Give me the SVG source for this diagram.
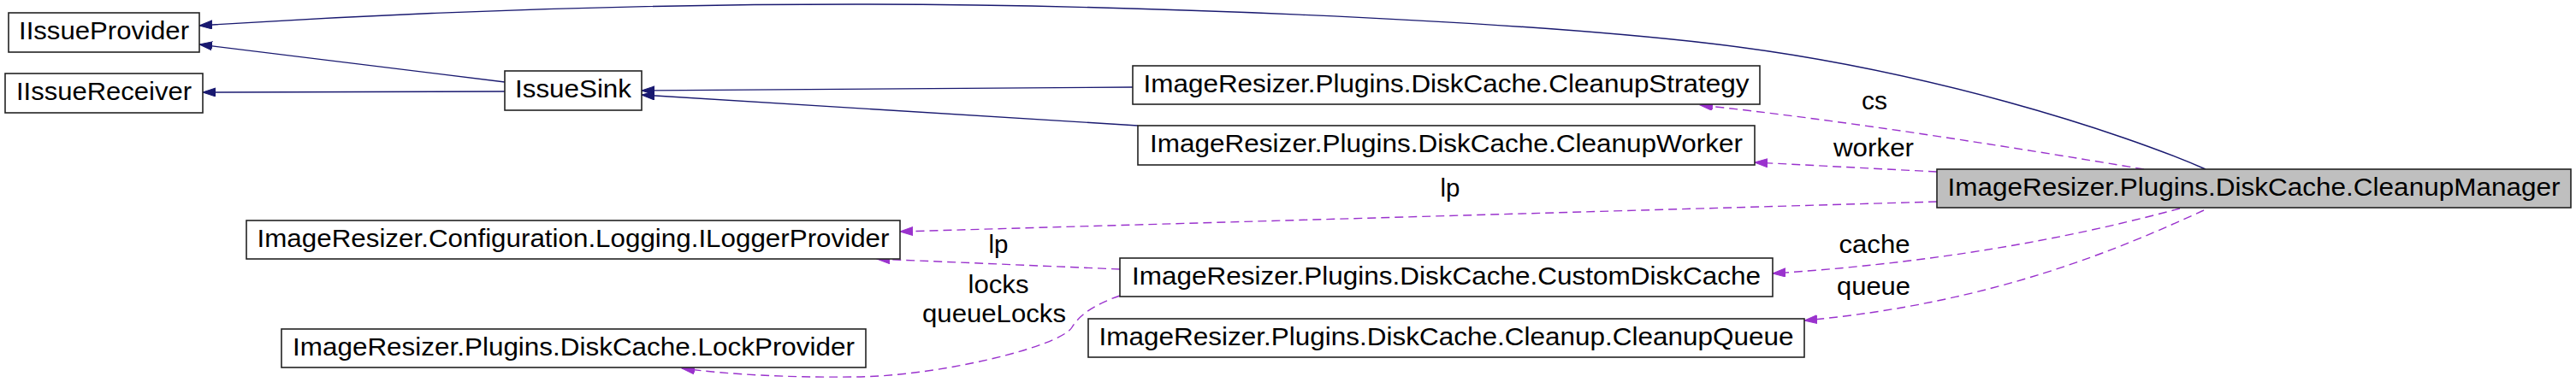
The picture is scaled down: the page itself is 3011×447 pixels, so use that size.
<svg xmlns="http://www.w3.org/2000/svg" width="3011" height="447" viewBox="0 0 3011 447">
<style>
.n rect{fill:#ffffff;stroke:#222222;stroke-width:1.6}
.n text,.lbl{font-family:"Liberation Sans",Arial,sans-serif;font-size:29px;fill:#000000;text-anchor:middle}
.inh{fill:none;stroke:#191970;stroke-width:1.4;marker-end:url(#ab)}
.use{fill:none;stroke:#9a32cd;stroke-width:1.4;stroke-dasharray:10,6;marker-end:url(#ap)}
</style>
<defs>
<marker id="ab" markerUnits="userSpaceOnUse" markerWidth="16" markerHeight="12" refX="15" refY="5" orient="auto"><path d="M0,0 L15,5 L0,10 z" fill="#191970" stroke="#191970"/></marker>
<marker id="ap" markerUnits="userSpaceOnUse" markerWidth="16" markerHeight="12" refX="15" refY="5" orient="auto"><path d="M0,0 L15,5 L0,10 z" fill="#9a32cd" stroke="#9a32cd"/></marker>
</defs>
<rect width="3011" height="447" fill="#ffffff"/>
<g id="connectors">
<path class="inh" d="M2578,198 C2480,155 2250,80 2000,51 C1750,22 1300,5 1000,5 C700,5 420,18 233,30"/>
<path class="inh" d="M590,96 L233,52"/>
<path class="inh" d="M590,107 L237,108"/>
<path class="inh" d="M1324,102 L750,106"/>
<path class="inh" d="M1330,147 L750,111"/>
<path class="use" d="M2506,198 C2350,172 2150,140 1987,123"/>
<path class="use" d="M2264,201 L2051,190"/>
<path class="use" d="M2264,236 L1052,271"/>
<path class="use" d="M2548,244 C2450,270 2300,305 2072,320"/>
<path class="use" d="M2576,246 C2480,290 2330,355 2109,375"/>
<path class="use" d="M1309,315 L1025,303"/>
<path class="use" d="M1309,346 C1280,356 1262,368 1253,383 C1240,405 1100,440 1000,441 C920,442 850,438 797,431"/>
<text class="lbl" x="2191" y="128" textLength="30" lengthAdjust="spacingAndGlyphs">cs</text>
<text class="lbl" x="2190" y="183" textLength="94" lengthAdjust="spacingAndGlyphs">worker</text>
<text class="lbl" x="1695" y="230" textLength="23" lengthAdjust="spacingAndGlyphs">lp</text>
<text class="lbl" x="2191" y="296" textLength="83" lengthAdjust="spacingAndGlyphs">cache</text>
<text class="lbl" x="2190" y="345" textLength="86" lengthAdjust="spacingAndGlyphs">queue</text>
<text class="lbl" x="1167" y="296" textLength="23" lengthAdjust="spacingAndGlyphs">lp</text>
<text class="lbl" x="1167" y="343" textLength="71" lengthAdjust="spacingAndGlyphs">locks</text>
<text class="lbl" x="1162" y="377" textLength="168" lengthAdjust="spacingAndGlyphs">queueLocks</text>
</g>
<g id="IIssueProvider" class="n"><rect x="10" y="15" width="223" height="46"/><text x="121.5" y="46" textLength="199" lengthAdjust="spacingAndGlyphs">IIssueProvider</text></g>
<g id="IIssueReceiver" class="n"><rect x="6" y="86" width="231" height="46"/><text x="121.5" y="117" textLength="205" lengthAdjust="spacingAndGlyphs">IIssueReceiver</text></g>
<g id="IssueSink" class="n"><rect x="590" y="83" width="160" height="46"/><text x="670" y="114" textLength="136" lengthAdjust="spacingAndGlyphs">IssueSink</text></g>
<g id="CleanupStrategy" class="n"><rect x="1324" y="77" width="733" height="45"/><text x="1690.5" y="108" textLength="708" lengthAdjust="spacingAndGlyphs">ImageResizer.Plugins.DiskCache.CleanupStrategy</text></g>
<g id="CleanupWorker" class="n"><rect x="1330" y="147" width="721" height="46"/><text x="1690.5" y="178" textLength="693" lengthAdjust="spacingAndGlyphs">ImageResizer.Plugins.DiskCache.CleanupWorker</text></g>
<g id="CleanupManager" class="n"><rect x="2264" y="198" width="741" height="45" style="fill:#bfbfbf"/><text x="2634.5" y="229" textLength="716" lengthAdjust="spacingAndGlyphs">ImageResizer.Plugins.DiskCache.CleanupManager</text></g>
<g id="ILoggerProvider" class="n"><rect x="288" y="258" width="764" height="45"/><text x="670" y="289" textLength="739" lengthAdjust="spacingAndGlyphs">ImageResizer.Configuration.Logging.ILoggerProvider</text></g>
<g id="LockProvider" class="n"><rect x="329" y="385" width="683" height="45"/><text x="670.5" y="416" textLength="657" lengthAdjust="spacingAndGlyphs">ImageResizer.Plugins.DiskCache.LockProvider</text></g>
<g id="CustomDiskCache" class="n"><rect x="1309" y="302" width="763" height="45"/><text x="1690.5" y="333" textLength="735" lengthAdjust="spacingAndGlyphs">ImageResizer.Plugins.DiskCache.CustomDiskCache</text></g>
<g id="CleanupQueue" class="n"><rect x="1272" y="373" width="837" height="45"/><text x="1690.5" y="404" textLength="812" lengthAdjust="spacingAndGlyphs">ImageResizer.Plugins.DiskCache.Cleanup.CleanupQueue</text></g>
</svg>
